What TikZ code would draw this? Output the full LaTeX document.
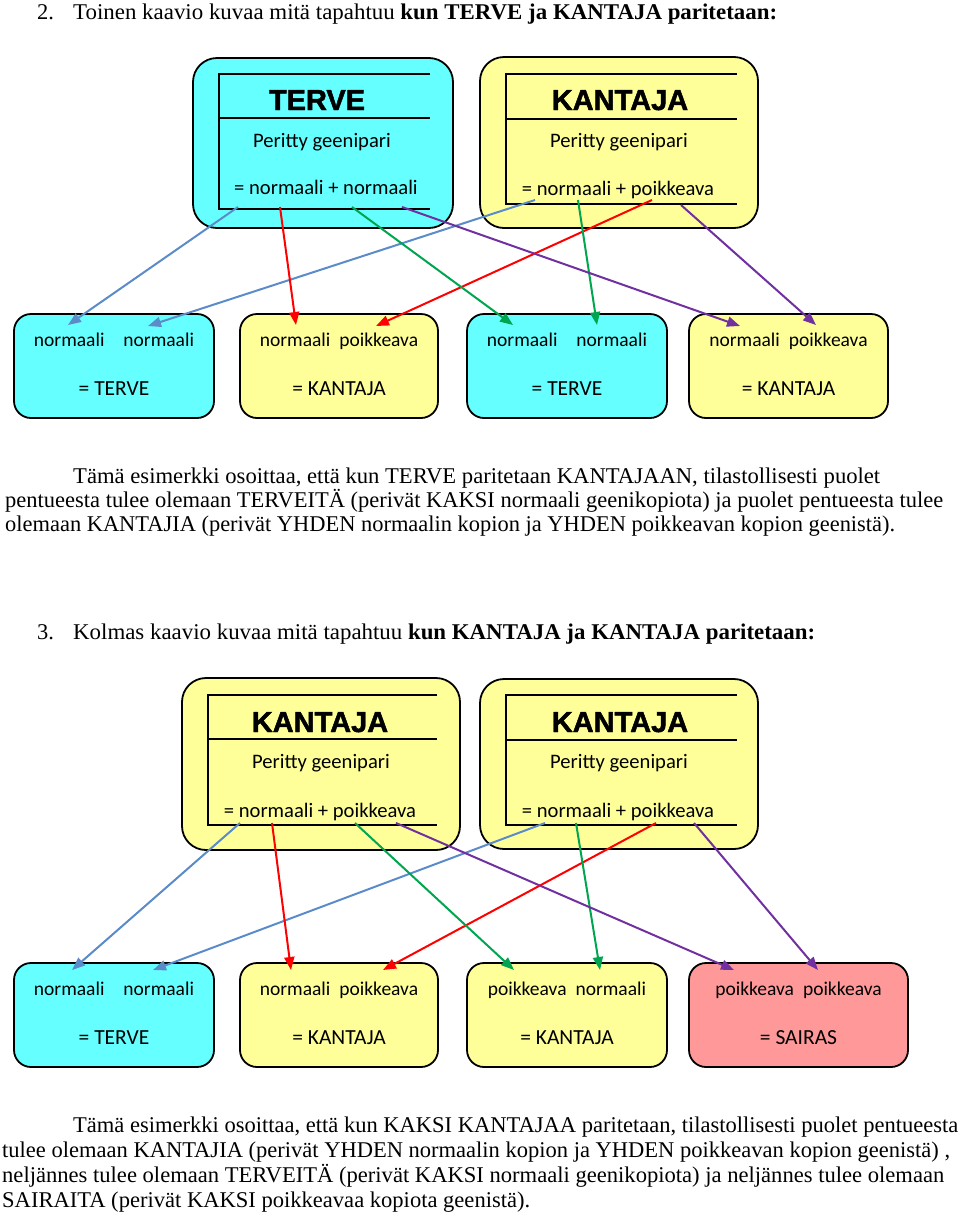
\documentclass[tikz,border=0pt]{standalone}
\usepackage{fontspec}
\usepackage{graphicx}
\setmainfont{Liberation Serif}
\newfontfamily\boxfont{Carlito}
\newfontfamily\headfont{Liberation Sans}[BoldFeatures={FakeBold=1.6}]
\usetikzlibrary{arrows.meta}
\definecolor{cyanfill}{HTML}{66FFFF}
\definecolor{yelfill}{HTML}{FFFF99}
\definecolor{pinkfill}{HTML}{FF9999}
\definecolor{ablue}{HTML}{5B8BC9}
\definecolor{ared}{HTML}{FF0000}
\definecolor{agreen}{HTML}{00A550}
\definecolor{apurple}{HTML}{7030A0}
\newcommand{\fitline}[2]{\resizebox{#1}{\height}{#2}}
\tikzset{
 bigbox/.style={draw=black, line width=1.8pt, rounded corners=24pt, inner sep=0pt},
 smallbox/.style={draw=black, line width=1.8pt, rounded corners=17pt, inner sep=0pt, minimum height=104pt},
 boxtxt/.style={font=\boxfont\fontsize{19.5}{22}\selectfont, anchor=base, inner sep=0pt},
 boxtxtb/.style={font=\boxfont\fontsize{21.5}{24}\selectfont, anchor=base, inner sep=0pt},
 bigtxt/.style={font=\boxfont\fontsize{20.6}{24}\selectfont, anchor=base, inner sep=0pt},
 titletxt/.style={font=\headfont\bfseries\fontsize{29}{32}\selectfont, anchor=base, inner sep=0pt},
 bodytxt/.style={font=\fontsize{22.5}{25}\selectfont, anchor=base west, inner sep=0pt},
 tabline/.style={line width=1.6pt},
 arr/.style={line width=2pt, -{Triangle[length=13pt,width=10pt]}},
}
\begin{document}
\begin{tikzpicture}[x=1pt,y=-1pt]
\useasboundingbox (0,0) rectangle (960,1216);

% ---------- heading 2 ----------
\node[bodytxt] (h2num) at (37,19) {2.};
\node[bodytxt] (h2) at (73,19) {\fitline{704pt}{Toinen kaavio kuvaa mitä tapahtuu \textbf{kun TERVE ja KANTAJA paritetaan:}}};

% ---------- diagram 2 parents ----------
\node[bigbox, fill=cyanfill, minimum width=260pt, minimum height=170pt] (terve) at (323,143) {};
\draw[tabline] (430,74) -- (219,74) -- (219,209) -- (430,209);
\draw[tabline] (219,118) -- (430,118);
\node[titletxt] (terveT) at (317,110) {TERVE};
\node[bigtxt] (terveP) at (322,147) {Peritty geenipari};
\node[bigtxt] (terveG) at (326,194) {= normaali + normaali};

\node[bigbox, fill=yelfill, minimum width=278pt, minimum height=171pt] (kant) at (619,142.5) {};
\draw[tabline] (737,74) -- (506,74) -- (506,204) -- (737,204);
\draw[tabline] (506,119) -- (737,119);
\node[titletxt] (kantT) at (620,110) {KANTAJA};
\node[bigtxt] (kantP) at (619,147) {Peritty geenipari};
\node[bigtxt] (kantG) at (618,195) {= normaali + poikkeava};

% ---------- diagram 2 children ----------
\node[smallbox, fill=cyanfill, minimum width=200pt] (c1) at (114,366) {};
\node[boxtxt] (c1a) at (114,346) {normaali\hspace{19pt}normaali};
\node[boxtxtb] (c1b) at (114,395) {= TERVE};
\node[smallbox, fill=yelfill, minimum width=198pt] (c2) at (339,366) {};
\node[boxtxt] (c2a) at (339,346) {normaali\hspace{9pt}poikkeava};
\node[boxtxtb] (c2b) at (339,395) {= KANTAJA};
\node[smallbox, fill=cyanfill, minimum width=200pt] (c3) at (567,366) {};
\node[boxtxt] (c3a) at (567,346) {normaali\hspace{19pt}normaali};
\node[boxtxtb] (c3b) at (567,395) {= TERVE};
\node[smallbox, fill=yelfill, minimum width=199pt] (c4) at (788.5,366) {};
\node[boxtxt] (c4a) at (788.5,346) {normaali\hspace{9pt}poikkeava};
\node[boxtxtb] (c4b) at (788.5,395) {= KANTAJA};

% arrow ends diagram 2
\coordinate (s1) at (238,207);
\coordinate (s2) at (280,207);
\coordinate (s3) at (352,207);
\coordinate (s4) at (402,207);
\coordinate (s5) at (535,200);
\coordinate (s6) at (578,200);
\coordinate (s7) at (652,200);
\coordinate (s8) at (681,205);
\coordinate (e1) at (68,325);
\coordinate (e2) at (148,326);
\coordinate (e3) at (296,325);
\coordinate (e4) at (376,326);
\coordinate (e5) at (513,325);
\coordinate (e6) at (597,325);
\coordinate (e7) at (740,326);
\coordinate (e8) at (816,325);
\draw[arr, ablue] (s1) -- (e1);
\draw[arr, ablue] (s5) -- (e2);
\draw[arr, ared] (s2) -- (e3);
\draw[arr, ared] (s7) -- (e4);
\draw[arr, agreen] (s3) -- (e5);
\draw[arr, agreen] (s6) -- (e6);
\draw[arr, apurple] (s4) -- (e7);
\draw[arr, apurple] (s8) -- (e8);

% ---------- paragraph 1 ----------
\node[bodytxt] (p1a) at (73,483) {\fitline{807pt}{Tämä esimerkki osoittaa, että kun TERVE paritetaan KANTAJAAN, tilastollisesti puolet}};
\node[bodytxt] (p1b) at (5,507) {\fitline{938pt}{pentueesta tulee olemaan TERVEITÄ (perivät KAKSI normaali geenikopiota) ja puolet pentueesta tulee}};
\node[bodytxt] (p1c) at (5,531) {\fitline{890pt}{olemaan KANTAJIA (perivät YHDEN normaalin kopion ja YHDEN poikkeavan kopion geenistä).}};

% ---------- heading 3 ----------
\node[bodytxt] (h3num) at (37,639) {3.};
\node[bodytxt] (h3) at (73,639) {\fitline{742pt}{Kolmas kaavio kuvaa mitä tapahtuu \textbf{kun KANTAJA ja KANTAJA paritetaan:}}};

% ---------- diagram 3 parents ----------
\node[bigbox, fill=yelfill, minimum width=278pt, minimum height=172pt] (kl) at (321,764) {};
\draw[tabline] (437,695) -- (208,695) -- (208,825) -- (437,825);
\draw[tabline] (208,739) -- (437,739);
\node[titletxt] (klT) at (320,732) {KANTAJA};
\node[bigtxt] (klP) at (321,768) {Peritty geenipari};
\node[bigtxt] (klG) at (320,817) {= normaali + poikkeava};

\node[bigbox, fill=yelfill, minimum width=278pt, minimum height=170pt] (kr) at (619,764) {};
\draw[tabline] (737,695) -- (506,695) -- (506,825) -- (737,825);
\draw[tabline] (506,740) -- (737,740);
\node[titletxt] (krT) at (620,732) {KANTAJA};
\node[bigtxt] (krP) at (619,768) {Peritty geenipari};
\node[bigtxt] (krG) at (618,817) {= normaali + poikkeava};

% ---------- diagram 3 children ----------
\node[smallbox, fill=cyanfill, minimum width=200pt] (d1) at (114,1015) {};
\node[boxtxt] (d1a) at (114,995) {normaali\hspace{19pt}normaali};
\node[boxtxtb] (d1b) at (114,1044) {= TERVE};
\node[smallbox, fill=yelfill, minimum width=198pt] (d2) at (339,1015) {};
\node[boxtxt] (d2a) at (339,995) {normaali\hspace{9pt}poikkeava};
\node[boxtxtb] (d2b) at (339,1044) {= KANTAJA};
\node[smallbox, fill=yelfill, minimum width=200pt] (d3) at (567,1015) {};
\node[boxtxt] (d3a) at (567,995) {poikkeava\hspace{9pt}normaali};
\node[boxtxtb] (d3b) at (567,1044) {= KANTAJA};
\node[smallbox, fill=pinkfill, minimum width=219pt] (d4) at (798.5,1015) {};
\node[boxtxt] (d4a) at (798.5,995) {poikkeava\hspace{9pt}poikkeava};
\node[boxtxtb] (d4b) at (798.5,1044) {= SAIRAS};

% arrow ends diagram 3
\coordinate (u1) at (240,823);
\coordinate (u2) at (272,823);
\coordinate (u3) at (355,823);
\coordinate (u4) at (396,823);
\coordinate (u5) at (545,823);
\coordinate (u6) at (576,823);
\coordinate (u7) at (656,823);
\coordinate (u8) at (694,823);
\coordinate (f1) at (72,970);
\coordinate (f2) at (153,970);
\coordinate (f3) at (291,970);
\coordinate (f4) at (383,970);
\coordinate (f5) at (514,970);
\coordinate (f6) at (600,970);
\coordinate (f7) at (734,970);
\coordinate (f8) at (818,970);
\draw[arr, ablue] (u1) -- (f1);
\draw[arr, ablue] (u5) -- (f2);
\draw[arr, ared] (u2) -- (f3);
\draw[arr, ared] (u7) -- (f4);
\draw[arr, agreen] (u3) -- (f5);
\draw[arr, agreen] (u6) -- (f6);
\draw[arr, apurple] (u4) -- (f7);
\draw[arr, apurple] (u8) -- (f8);

% ---------- paragraph 2 ----------
\node[bodytxt] (p2a) at (73,1132) {\fitline{885pt}{Tämä esimerkki osoittaa, että kun KAKSI KANTAJAA paritetaan, tilastollisesti puolet pentueesta}};
\node[bodytxt] (p2b) at (2,1157) {\fitline{948pt}{tulee olemaan KANTAJIA (perivät YHDEN normaalin kopion ja YHDEN poikkeavan kopion geenistä) ,}};
\node[bodytxt] (p2c) at (2,1182) {\fitline{942pt}{neljännes tulee olemaan TERVEITÄ (perivät KAKSI normaali geenikopiota) ja neljännes tulee olemaan}};
\node[bodytxt] (p2d) at (2,1207) {\fitline{528pt}{SAIRAITA (perivät KAKSI poikkeavaa kopiota geenistä).}};
\end{tikzpicture}
\end{document}
